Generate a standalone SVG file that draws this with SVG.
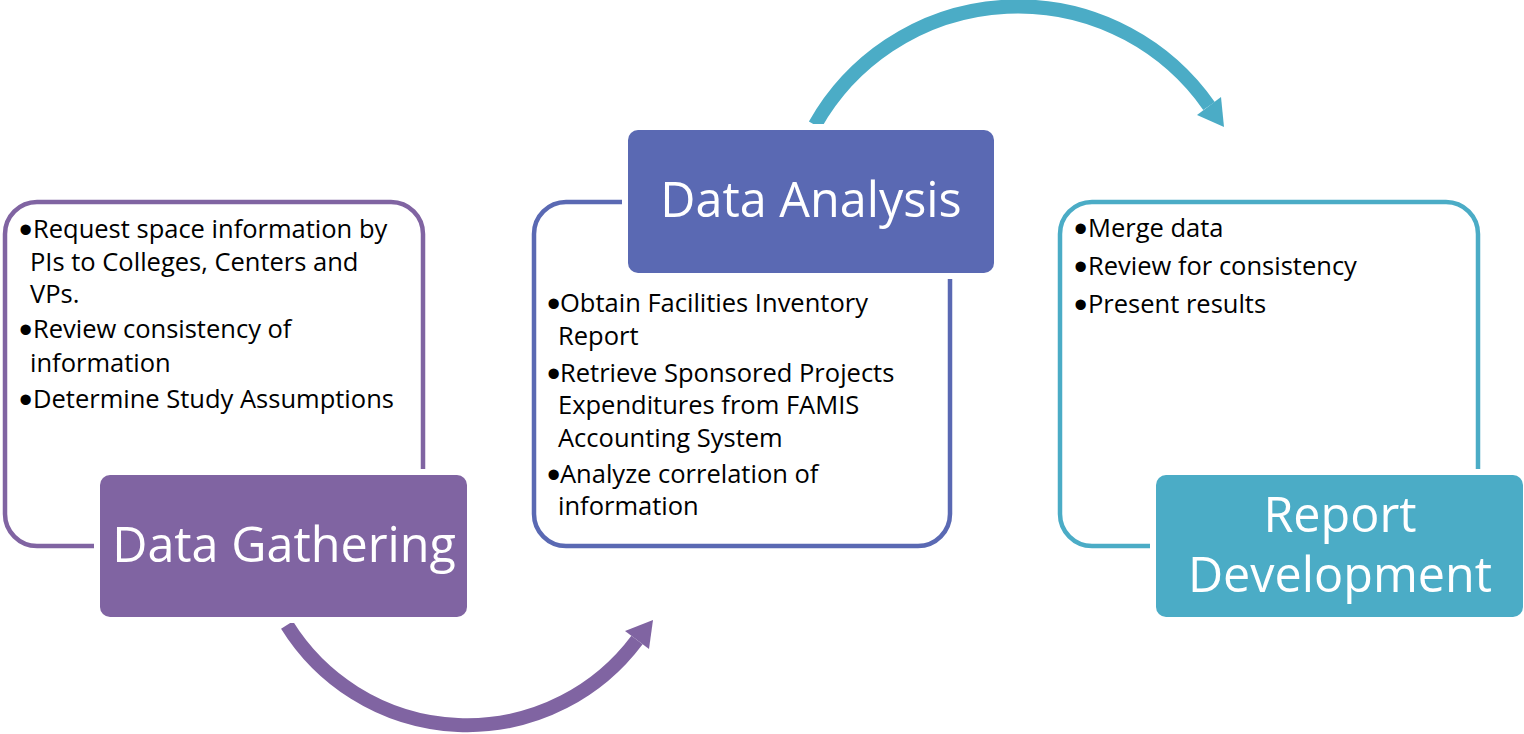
<svg xmlns="http://www.w3.org/2000/svg" width="1524" height="734" viewBox="0 0 1524 734">
<style>
.ol{fill:#fff;stroke-width:4.5}
.mask{fill:#fff}
.body{font-family:"Open Sans","Liberation Sans",sans-serif;font-size:25.5px;fill:#000}
.b{font-family:"Liberation Sans",sans-serif;font-size:38px}
.title{font-family:"Open Sans","Liberation Sans",sans-serif;font-size:48.5px;fill:#fff;text-anchor:middle}
.conn{fill:none;stroke-width:14}
</style>
<rect width="1524" height="734" fill="#fff"/>
<g id="connectors">
<path class="conn" stroke="#8064A2" d="M287,625 A212,212 0 0 0 637,640"/>
<polygon fill="#8064A2" points="653,620 625,631 649,649"/>
<path class="conn" stroke="#4BACC6" d="M815,125 A233,233 0 0 1 1209,106"/>
<polygon fill="#4BACC6" points="1224,127 1197,115 1221,97"/>
</g>
<g id="data-gathering">
<rect class="ol" stroke="#8064A2" x="5" y="202" width="418" height="344" rx="32"/>
<text class="body">
<tspan class="b" x="19" y="243">•</tspan><tspan x="33" y="238">Request space information by</tspan>
<tspan x="30" y="271">PIs to Colleges, Centers and</tspan>
<tspan x="30" y="303">VPs.</tspan>
<tspan class="b" x="19" y="343">•</tspan><tspan x="33" y="338">Review consistency of</tspan>
<tspan x="30" y="372">information</tspan>
<tspan class="b" x="19" y="413">•</tspan><tspan x="33" y="408">Determine Study Assumptions</tspan>
</text>
<rect class="mask" x="94" y="469" width="379" height="154" rx="14"/>
<rect fill="#8064A2" x="100" y="475" width="367" height="142" rx="10"/>
<text class="title" x="284" y="562">Data Gathering</text>
</g>
<g id="data-analysis">
<rect class="ol" stroke="#5A69B3" x="534" y="202" width="416" height="344" rx="32"/>
<rect class="mask" x="622" y="124" width="378" height="155" rx="14"/>
<rect fill="#5A69B3" x="628" y="130" width="366" height="143" rx="10"/>
<text class="title" x="811" y="217">Data Analysis</text>
<text class="body">
<tspan class="b" x="547" y="317">•</tspan><tspan x="560" y="312">Obtain Facilities Inventory</tspan>
<tspan x="558" y="345">Report</tspan>
<tspan class="b" x="547" y="387">•</tspan><tspan x="560" y="382">Retrieve Sponsored Projects</tspan>
<tspan x="558" y="414">Expenditures from FAMIS</tspan>
<tspan x="558" y="447">Accounting System</tspan>
<tspan class="b" x="547" y="488">•</tspan><tspan x="560" y="483">Analyze correlation of</tspan>
<tspan x="558" y="515">information</tspan>
</text>
</g>
<g id="report-development">
<rect class="ol" stroke="#4BACC6" x="1060" y="202" width="418" height="344" rx="32"/>
<text class="body">
<tspan class="b" x="1074" y="242">•</tspan><tspan x="1088" y="237">Merge data</tspan>
<tspan class="b" x="1074" y="280">•</tspan><tspan x="1088" y="275">Review for consistency</tspan>
<tspan class="b" x="1074" y="318">•</tspan><tspan x="1088" y="313">Present results</tspan>
</text>
<rect class="mask" x="1150" y="469" width="379" height="154" rx="14"/>
<rect fill="#4BACC6" x="1156" y="475" width="367" height="142" rx="10"/>
<text class="title" x="1340" y="532">Report</text>
<text class="title" x="1340" y="592">Development</text>
</g>
</svg>
